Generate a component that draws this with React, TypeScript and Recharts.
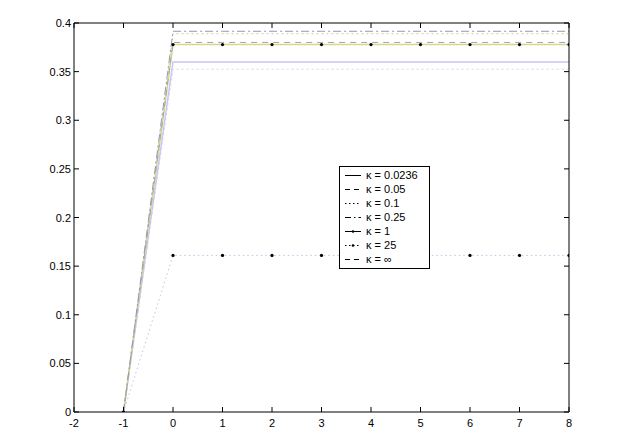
import React from 'react';
import { LineChart, Line, XAxis, YAxis, Legend } from 'recharts';

const xValues = [-1, 0, 1, 2, 3, 4, 5, 6, 7, 8];
const k0236 = [0, 0.36, 0.36, 0.36, 0.36, 0.36, 0.36, 0.36, 0.36, 0.36];
const k005 = [0, 0.3525, 0.3525, 0.3525, 0.3525, 0.3525, 0.3525, 0.3525, 0.3525, 0.3525];
const k01 = [0, 0.389, 0.389, 0.389, 0.389, 0.389, 0.389, 0.389, 0.389, 0.389];
const k025 = [0, 0.3915, 0.3915, 0.3915, 0.3915, 0.3915, 0.3915, 0.3915, 0.3915, 0.3915];
const k1 = [0, 0.3778, 0.3778, 0.3778, 0.3778, 0.3778, 0.3778, 0.3778, 0.3778, 0.3778];
const k25 = [0, 0.161, 0.161, 0.161, 0.161, 0.161, 0.161, 0.161, 0.161, 0.161];
const kInf = [0, 0.38, 0.38, 0.38, 0.38, 0.38, 0.38, 0.38, 0.38, 0.38];

const xTicks = [-2, -1, 0, 1, 2, 3, 4, 5, 6, 7, 8];
const yTicks = [0, 0.05, 0.1, 0.15, 0.2, 0.25, 0.3, 0.35, 0.4];

const seriesLabels = ['κ = 0.0236', 'κ = 0.05', 'κ = 0.1', 'κ = 0.25', 'κ = 1', 'κ = 25', 'κ = ∞'];

const data = xValues.map((x, i) => ({
  x,
  k0236: k0236[i],
  k005: k005[i],
  k01: k01[i],
  k025: k025[i],
  k1: k1[i],
  k25: k25[i],
  kInf: kInf[i],
}));

const FONT = '"Liberation Sans", Arial, sans-serif';

const BottomTick = (props: any) => {
  const { x, y, payload } = props;
  return (
    <g>
      <line x1={x} y1={y} x2={x} y2={y - 5} stroke="#000" />
      <text x={x} y={y + 15} textAnchor="middle" fontSize={11} fontFamily={FONT} fill="#000">
        {String(payload.value)}
      </text>
    </g>
  );
};

const TopTick = (props: any) => {
  const { x, y } = props;
  return <line x1={x} y1={y} x2={x} y2={y + 5} stroke="#000" />;
};

const LeftTick = (props: any) => {
  const { x, y, payload } = props;
  return (
    <g>
      <line x1={x} y1={y} x2={x + 5} y2={y} stroke="#000" />
      <text x={x - 3} y={y + 4} textAnchor="end" fontSize={11} fontFamily={FONT} fill="#000">
        {String(payload.value)}
      </text>
    </g>
  );
};

const RightTick = (props: any) => {
  const { x, y } = props;
  return <line x1={x} y1={y} x2={x - 5} y2={y} stroke="#000" />;
};

const legendStyles = [
  { dash: undefined, marker: false },
  { dash: '5 4', marker: false },
  { dash: '1.5 2.5', marker: false },
  { dash: '6 3 1.5 3', marker: false },
  { dash: undefined, marker: true },
  { dash: '1.5 2.5', marker: true },
  { dash: '5 4', marker: false },
];

const LegendBox = () => (
  <div
    style={{
      border: '1px solid #000',
      background: '#fff',
      padding: '1px 0 2px 0',
      width: 89,
      fontFamily: FONT,
      fontSize: 11,
      color: '#000',
      boxSizing: 'content-box',
    }}
  >
    {seriesLabels.map((label, i) => (
      <div key={label} style={{ height: 14, display: 'flex', alignItems: 'center' }}>
        <svg width={26} height={14} style={{ display: 'block', flex: 'none' }}>
          <line
            x1={5}
            y1={7.5}
            x2={21}
            y2={7.5}
            stroke="#000"
            strokeWidth={1}
            strokeDasharray={legendStyles[i].dash}
          />
          {legendStyles[i].marker && <circle cx={13} cy={7.5} r={1.3} fill="#000" />}
        </svg>
        <span style={{ lineHeight: '14px', whiteSpace: 'nowrap' }}>{label}</span>
      </div>
    ))}
  </div>
);

const markerDot = { r: 1.6, fill: '#000', stroke: 'none' };

export default function App() {
  return (
    <div style={{ position: 'absolute', left: 0, top: 0, width: 643, height: 445, background: '#fff' }}>
      <LineChart
        width={643}
        height={445}
        data={data}
        margin={{ top: 13, right: 64, bottom: 3, left: 14 }}
      >
        <XAxis
          dataKey="x"
          type="number"
          domain={[-2, 8]}
          ticks={xTicks}
          allowDataOverflow
          height={30}
          tickSize={0}
          tickMargin={0}
          tickLine={false}
          axisLine={{ stroke: '#000' }}
          tick={<BottomTick />}
          interval={0}
        />
        <XAxis
          xAxisId="top"
          orientation="top"
          dataKey="x"
          type="number"
          domain={[-2, 8]}
          ticks={xTicks}
          allowDataOverflow
          height={10}
          tickSize={0}
          tickMargin={0}
          tickLine={false}
          axisLine={{ stroke: '#000' }}
          tick={<TopTick />}
          interval={0}
        />
        <YAxis
          type="number"
          domain={[0, 0.4]}
          ticks={yTicks}
          allowDataOverflow
          width={60}
          tickSize={0}
          tickMargin={0}
          tickLine={false}
          axisLine={{ stroke: '#000' }}
          tick={<LeftTick />}
          interval={0}
        />
        <YAxis
          yAxisId="right"
          orientation="right"
          type="number"
          domain={[0, 0.4]}
          ticks={yTicks}
          allowDataOverflow
          width={10}
          tickSize={0}
          tickMargin={0}
          tickLine={false}
          axisLine={{ stroke: '#000' }}
          tick={<RightTick />}
          interval={0}
        />
        <Line dataKey="k25" stroke="#c4c4e8" strokeWidth={1} strokeDasharray="1.5 3" dot={markerDot} isAnimationActive={false} />
        <Line dataKey="k005" stroke="#d4d4f6" strokeWidth={1} strokeDasharray="2 3" dot={false} isAnimationActive={false} />
        <Line dataKey="k0236" stroke="#c8c8f2" strokeWidth={1.5} dot={false} isAnimationActive={false} />
        <Line dataKey="k1" stroke="#d6d68c" strokeWidth={1.5} dot={markerDot} isAnimationActive={false} />
        <Line dataKey="kInf" stroke="#a4a4a4" strokeWidth={1} strokeDasharray="6 5" dot={false} isAnimationActive={false} />
        <Line dataKey="k01" stroke="#cfcfa0" strokeWidth={1} strokeDasharray="2 3" dot={false} isAnimationActive={false} />
        <Line dataKey="k025" stroke="#9898b8" strokeWidth={1} strokeDasharray="8 3 2 3" dot={false} isAnimationActive={false} />
        <Legend
          layout="vertical"
          align="center"
          verticalAlign="middle"
          content={<LegendBox />}
          wrapperStyle={{ position: 'absolute', left: 339, top: 166, width: 91, margin: 0 }}
        />
      </LineChart>
    </div>
  );
}
